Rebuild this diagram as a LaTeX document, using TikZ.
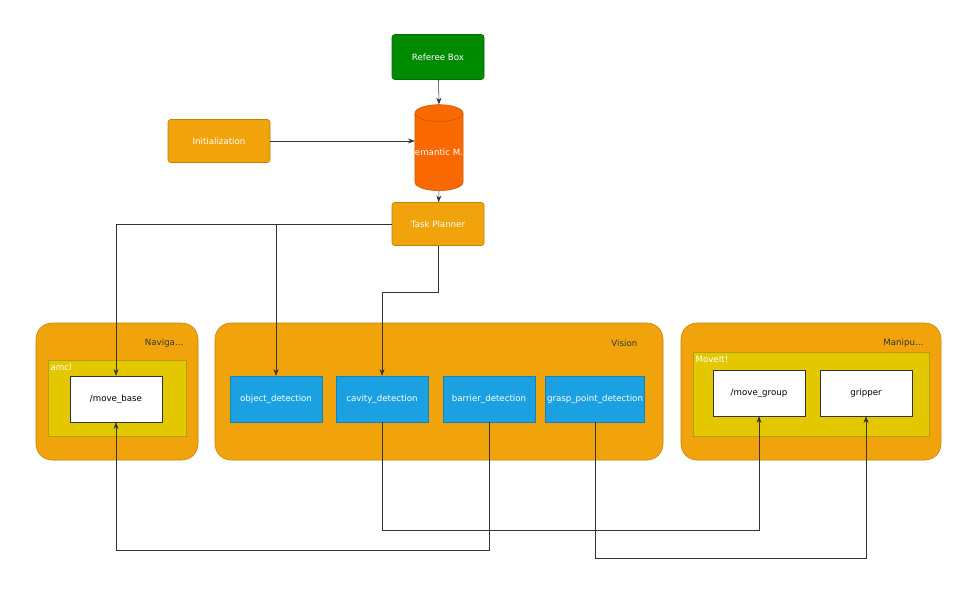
\documentclass[tikz,border=0pt]{standalone}
\usepackage{fontspec}
\setmainfont{DejaVu Sans}
\usetikzlibrary{shapes.geometric,arrows.meta}
\definecolor{grn}{HTML}{008A00}
\definecolor{org}{HTML}{F0A30A}
\definecolor{cyl}{HTML}{FA6800}
\definecolor{ylw}{HTML}{E3C800}
\definecolor{blu}{HTML}{1BA1E2}
\tikzset{
  box/.style={draw=#1!80!black, fill=#1, rounded corners=2pt, text=white, font=\fontsize{6.5}{8}\selectfont},
  group/.style={draw=org!80!black, fill=org, rounded corners=12pt},
  inner/.style={draw=ylw!80!black, fill=ylw},
  lbl/.style={font=\fontsize{6.5}{8}\selectfont, text=#1},
  wire/.style={-{Stealth[length=5pt]}, draw=black!80}
}
\begin{document}
\begin{tikzpicture}[x=0.0264cm, y=-0.0264cm]
  \useasboundingbox (0,0) rectangle (973,588);
  % groups
  \filldraw[group] (36,323) rectangle (198,460);
  \filldraw[group] (215,323) rectangle (663,460);
  \filldraw[group] (681,323) rectangle (941,460);
  \filldraw[inner] (48,360) rectangle (186,436);
  \filldraw[inner] (693,352) rectangle (929,436);
  \node[lbl=black!80, anchor=east] (navlbl) at (188,343) {Naviga...};
  \node[lbl=black!80, anchor=east] (vislbl) at (642,343) {Vision};
  \node[lbl=black!80, anchor=east] (manlbl) at (928,343) {Manipu...};
  \node[lbl=white, anchor=west, inner sep=1pt] (amcllbl) at (49,367) {amcl};
  \node[lbl=white, anchor=west, inner sep=1pt] (movlbl) at (694,359) {MoveIt!};
  % top nodes
  \node[box=grn, minimum width=92*0.0264cm, minimum height=45*0.0264cm] (ref) at (438,57) {Referee Box};
  \node[box=org, minimum width=102*0.0264cm, minimum height=43*0.0264cm] (init) at (219,141) {Initialization};
  \node[cylinder, shape border rotate=90, aspect=0.35, draw=cyl!80!black, fill=cyl, text=white,
        minimum width=46*0.0264cm, minimum height=86*0.0264cm, inner sep=0pt,
        font=\fontsize{6.5}{8}\selectfont] (sem) at (439,152) {emantic M.};
  \node[box=org, minimum width=92*0.0264cm, minimum height=43*0.0264cm] (plan) at (438,224) {Task Planner};
  % inner nodes
  \node[draw=black!80, fill=white, minimum width=92*0.0264cm, minimum height=46*0.0264cm,
        font=\fontsize{6.5}{8}\selectfont] (mb) at (116,399) {/move\_base};
  \foreach \name/\x/\txt in {od/276/object\_detection, cd/382/cavity\_detection,
                            bd/489/barrier\_detection, gd/595/grasp\_point\_detection}
    \node[draw=blu!80!black, fill=blu, text=white, minimum width=92*0.0264cm, minimum height=46*0.0264cm,
          inner sep=1pt, font=\fontsize{6.5}{8}\selectfont] (\name) at (\x,399) {\txt};
  \node[draw=black!80, fill=white, minimum width=92*0.0264cm, minimum height=46*0.0264cm,
        font=\fontsize{6.5}{8}\selectfont] (mg) at (759,393) {/move\_group};
  \node[draw=black!80, fill=white, minimum width=92*0.0264cm, minimum height=46*0.0264cm,
        font=\fontsize{6.5}{8}\selectfont] (gr) at (866,393) {gripper};
  % connectors
  \draw[wire] (ref) -- (sem.north);
  \draw[wire] (init) -- (init -| sem.west);
  \draw[wire] (sem.south) -- (plan);
  \draw[wire] (plan.west) -| (mb.north);
  \draw[wire] (plan.west) -| (od.north);
  \draw[wire] (plan.south) |- (382,292) -- (cd.north);
  \draw[wire] (cd.south) |- (759,530) -- (mg.south);
  \draw[wire] (bd.south) |- (116,550) -- (mb.south);
  \draw[wire] (gd.south) |- (866,558) -- (gr.south);
\end{tikzpicture}
\end{document}
